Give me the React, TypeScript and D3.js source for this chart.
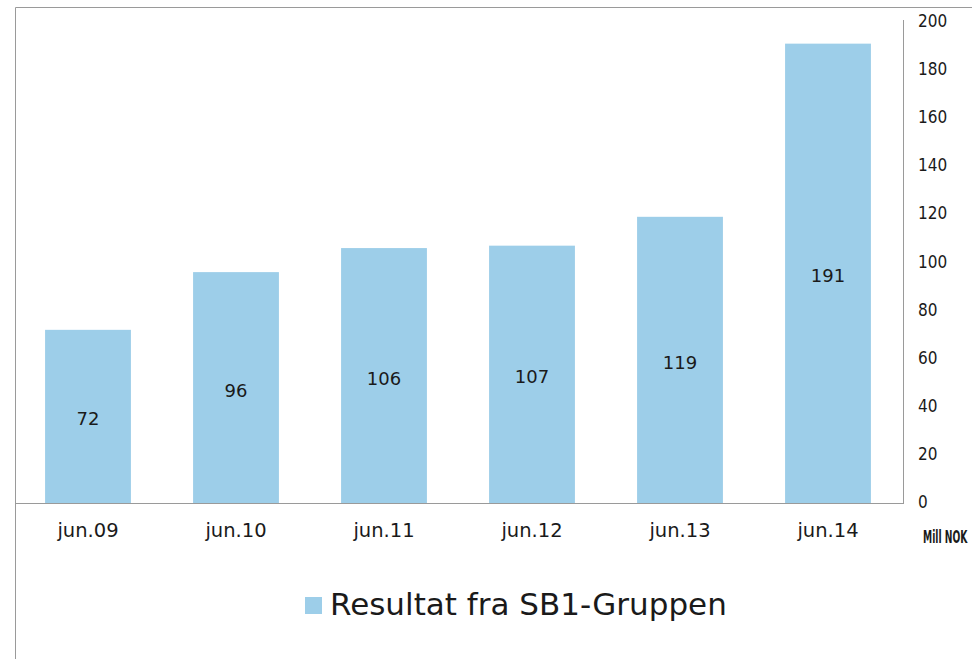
import React from "react";
import * as d3 from "d3";

const CATEGORIES = ["jun.09", "jun.10", "jun.11", "jun.12", "jun.13", "jun.14"];
const VALUES = [72, 96, 106, 107, 119, 191];
const Y_TICKS = [0, 20, 40, 60, 80, 100, 120, 140, 160, 180, 200];
const SERIES_NAME = "Resultat fra SB1-Gruppen";
const UNIT = "Mill NOK";

const W = 972;
const H = 659;
const BAR = "#9dcee9";
const AXIS = "#9a9a9a";
const VERDANA = "Verdana, 'DejaVu Sans', sans-serif";
const NARROW = "'Liberation Sans Narrow', 'DejaVu Sans Condensed', sans-serif";

export default function App() {
  const x = d3.scaleBand().domain(CATEGORIES).range([14, 902]).paddingInner(0.42).paddingOuter(0.21);
  const y = d3.scaleLinear().domain([0, 200]).range([503, 22]);

  return (
    <svg width={W} height={H} style={{ position: "absolute", left: 0, top: 0, background: "#fff" }}>
      {/* frame */}
      <line x1={15.5} y1={7.5} x2={W} y2={7.5} stroke={AXIS} />
      <line x1={15.5} y1={7.5} x2={15.5} y2={H} stroke={AXIS} />

      {/* bars */}
      {VALUES.map((v, i) => (
        <rect key={i} x={x(CATEGORIES[i])} y={y(v)} width={x.bandwidth()} height={y(0) - y(v)} fill={BAR} />
      ))}

      {/* value labels */}
      {VALUES.map((v, i) => (
        <text key={"v" + i} x={x(CATEGORIES[i])! + x.bandwidth() / 2} y={(y(v) + y(0)) / 2 + 4}
          textAnchor="middle" dominantBaseline="middle" fontFamily={VERDANA} fontSize={18} fill="#1a1a1a">
          {v}
        </text>
      ))}

      {/* axes */}
      <line x1={15} y1={y(0) + 0.5} x2={903} y2={y(0) + 0.5} stroke={AXIS} />
      <line x1={903.5} y1={y(200) - 2} x2={903.5} y2={y(0) + 1} stroke={AXIS} />

      {Y_TICKS.map((t) => (
        <text key={"t" + t} x={918} y={y(t)} dominantBaseline="middle" fontFamily={NARROW} fontSize={17} fill="#1a1a1a">
          {t}
        </text>
      ))}

      {CATEGORIES.map((c) => (
        <text key={c} x={x(c)! + x.bandwidth() / 2} y={531} textAnchor="middle" dominantBaseline="middle"
          fontFamily={VERDANA} fontSize={19.5} fill="#1a1a1a">
          {c}
        </text>
      ))}

      <text transform="translate(923,538) scale(0.6,1)" dominantBaseline="middle" fontFamily={NARROW}
        fontWeight="bold" fontSize={18.5} textLength={74} lengthAdjust="spacingAndGlyphs" fill="#1a1a1a">
        {UNIT}
      </text>

      {/* legend */}
      <rect x={305} y={597} width={17} height={17} fill={BAR} />
      <text x={330} y={606} dominantBaseline="middle" fontFamily={VERDANA} fontSize={31} fill="#1a1a1a">
        {SERIES_NAME}
      </text>
    </svg>
  );
}
